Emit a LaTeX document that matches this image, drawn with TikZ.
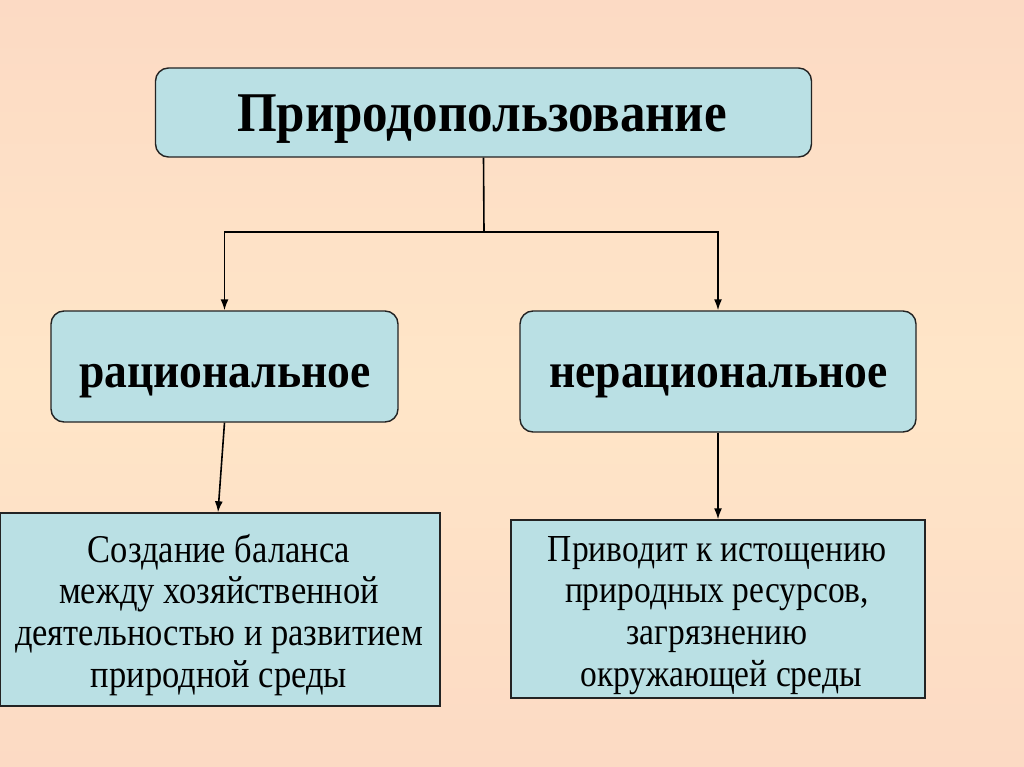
\documentclass[tikz,border=0pt]{standalone}
\usepackage{fontspec}
\usepackage{graphicx}
\setmainfont{Liberation Serif}
\usetikzlibrary{arrows.meta}
\definecolor{boxfill}{RGB}{186,224,228}
\definecolor{bgtop}{RGB}{252,218,196}
\definecolor{bgmid}{RGB}{255,230,200}
\definecolor{edge}{RGB}{35,35,35}
% text a bit taller than the font draws it
\newcommand{\stretchtext}[2]{\scalebox{1}[#1]{\begin{tabular}[t]{@{}c@{}}#2\end{tabular}}}

\begin{document}
\begin{tikzpicture}[x=1pt,y=-1pt,>={Latex[length=11pt,width=8pt]},
  head/.style={draw=edge,line width=1.4pt,fill=boxfill,rounded corners=13pt},
  plain/.style={draw=edge,line width=1.4pt,fill=boxfill},
  word/.style={inner sep=0pt,anchor=base},
  link/.style={line width=1.6pt,draw=black}]
  % background
  \fill[top color=bgtop,bottom color=bgtop,middle color=bgmid] (0,0) rectangle (1024,767);
  \useasboundingbox (0,0) rectangle (1024,767);
  % boxes
  \node[head,minimum width=656pt,minimum height=89pt] (nat) at (483.5,112.5) {};
  \node[head,minimum width=347pt,minimum height=111pt] (rat) at (224.5,366.5) {};
  \node[head,minimum width=396pt,minimum height=121pt] (irr) at (718,371.5) {};
  \node[plain,minimum width=440pt,minimum height=193pt] (bal) at (220,609.5) {};
  \node[plain,minimum width=414pt,minimum height=178pt] (exh) at (718,609) {};
  % texts
  \node[word,font=\fontsize{51}{56}\selectfont\bfseries] (nat-t) at (482,132)
    {\stretchtext{1.1}{Природопользование}};
  \node[word,font=\fontsize{45.6}{50}\selectfont\bfseries] (rat-t) at (225,387)
    {\stretchtext{1.08}{рациональное}};
  \node[word,font=\fontsize{45.6}{50}\selectfont\bfseries] (irr-t) at (718.5,387)
    {\stretchtext{1.08}{нерациональное}};
  \node[word,font=\fontsize{34.5}{36.6}\selectfont] (bal-t) at (219,562)
    {\stretchtext{1.14}{Создание баланса\\между хозяйственной\\деятельностью и развитием\\природной среды}};
  \node[word,font=\fontsize{33.5}{36.6}\selectfont] (exh-t) at (717,561)
    {\stretchtext{1.14}{Приводит к истощению\\природных ресурсов,\\загрязнению\\\hspace*{8pt}окружающей среды}};
  % connectors
  \coordinate (fork) at (484,232);
  \draw[link] (nat.south) -- (fork);
  \draw[link,->] (fork) -| (rat.north);
  \draw[link,->] (fork) -| (irr.north);
  \draw[link,->] (rat.south) -- ([xshift=-2pt]bal.north);
  \draw[link,->] (irr.south) -- (exh.north);
\end{tikzpicture}
\end{document}
